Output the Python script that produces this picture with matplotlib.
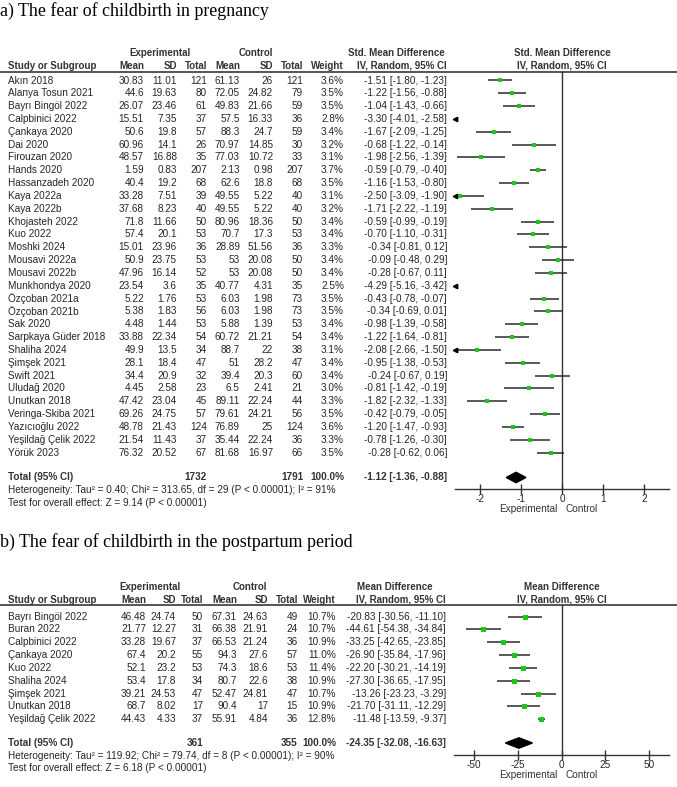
import matplotlib
matplotlib.use("Agg")
import matplotlib.pyplot as plt
from matplotlib.patches import Polygon

# ---------------- data: panel a ----------------
studies_a = ["Akın 2018", "Alanya Tosun 2021", "Bayrı Bingöl 2022", "Calpbinici 2022", "Çankaya 2020",
             "Dai 2020", "Firouzan 2020", "Hands 2020", "Hassanzadeh 2020", "Kaya 2022a", "Kaya 2022b",
             "Khojasteh 2022", "Kuo 2022", "Moshki 2024", "Mousavi 2022a", "Mousavi 2022b",
             "Munkhondya 2020", "Özçoban 2021a", "Özçoban 2021b", "Sak 2020", "Sarpkaya Güder 2018",
             "Shaliha 2024", "Şimşek 2021", "Swift 2021", "Uludağ 2020", "Unutkan 2018",
             "Veringa-Skiba 2021", "Yazıcıoğlu 2022", "Yeşildağ Çelik 2022", "Yörük 2023"]
exp_mean_a = [30.83, 44.6, 26.07, 15.51, 50.6, 60.96, 48.57, 1.59, 40.4, 33.28, 37.68, 71.8, 57.4, 15.01,
              50.9, 47.96, 23.54, 5.22, 5.38, 4.48, 33.88, 49.9, 28.1, 34.4, 4.45, 47.42, 69.26, 48.78,
              21.54, 76.32]
exp_sd_a = [11.01, 19.63, 23.46, 7.35, 19.8, 14.1, 16.88, 0.83, 19.2, 7.51, 8.23, 11.66, 20.1, 23.96,
            23.75, 16.14, 3.6, 1.76, 1.83, 1.44, 22.34, 13.5, 18.4, 20.9, 2.58, 23.04, 24.75, 21.43,
            11.43, 20.52]
exp_n_a = [121, 80, 61, 37, 57, 26, 35, 207, 68, 39, 40, 50, 53, 36, 53, 52, 35, 53, 56, 53, 54, 34, 47,
           32, 23, 45, 57, 124, 37, 67]
ctl_mean_a = [61.13, 72.05, 49.83, 57.5, 88.3, 70.97, 77.03, 2.13, 62.6, 49.55, 49.55, 80.96, 70.7, 28.89,
              53, 53, 40.77, 6.03, 6.03, 5.88, 60.72, 88.7, 51, 39.4, 6.5, 89.11, 79.61, 76.89, 35.44,
              81.68]
ctl_sd_a = [26, 24.82, 21.66, 16.33, 24.7, 14.85, 10.72, 0.98, 18.8, 5.22, 5.22, 18.36, 17.3, 51.56,
            20.08, 20.08, 4.31, 1.98, 1.98, 1.39, 21.21, 22, 28.2, 20.3, 2.41, 22.24, 24.21, 25, 22.24,
            16.97]
ctl_n_a = [121, 79, 59, 36, 59, 30, 33, 207, 68, 40, 40, 50, 53, 36, 50, 50, 35, 73, 73, 53, 54, 38, 47,
           60, 21, 44, 56, 124, 36, 66]
weight_a = [3.6, 3.5, 3.5, 2.8, 3.4, 3.2, 3.1, 3.7, 3.5, 3.1, 3.2, 3.4, 3.4, 3.3, 3.4, 3.4, 2.5, 3.5, 3.5,
            3.4, 3.4, 3.1, 3.4, 3.4, 3.0, 3.3, 3.5, 3.6, 3.3, 3.5]
est_a = [-1.51, -1.22, -1.04, -3.30, -1.67, -0.68, -1.98, -0.59, -1.16, -2.50, -1.71, -0.59, -0.70, -0.34,
         -0.09, -0.28, -4.29, -0.43, -0.34, -0.98, -1.22, -2.08, -0.95, -0.24, -0.81, -1.82, -0.42, -1.20,
         -0.78, -0.28]
lo_a = [-1.80, -1.56, -1.43, -4.01, -2.09, -1.22, -2.56, -0.79, -1.53, -3.09, -2.22, -0.99, -1.10, -0.81,
        -0.48, -0.67, -5.16, -0.78, -0.69, -1.39, -1.64, -2.66, -1.38, -0.67, -1.42, -2.32, -0.79, -1.47,
        -1.26, -0.62]
hi_a = [-1.23, -0.88, -0.66, -2.58, -1.25, -0.14, -1.39, -0.40, -0.80, -1.90, -1.19, -0.19, -0.31, 0.12,
        0.29, 0.11, -3.42, -0.07, 0.01, -0.58, -0.81, -1.50, -0.53, 0.19, -0.19, -1.33, -0.05, -0.93,
        -0.30, 0.06]
total_a = {"exp_n": 1732, "ctl_n": 1791, "weight": 100.0, "est": -1.12, "lo": -1.36, "hi": -0.88}
het_a = "Heterogeneity: Tau² = 0.40; Chi² = 313.65, df = 29 (P < 0.00001); I² = 91%"
test_a = "Test for overall effect: Z = 9.14 (P < 0.00001)"
ticks_a = [-2, -1, 0, 1, 2]

# ---------------- data: panel b ----------------
studies_b = ["Bayrı Bingöl 2022", "Buran 2022", "Calpbinici 2022", "Çankaya 2020", "Kuo 2022",
             "Shaliha 2024", "Şimşek 2021", "Unutkan 2018", "Yeşildağ Çelik 2022"]
exp_mean_b = [46.48, 21.77, 33.28, 67.4, 52.1, 53.4, 39.21, 68.7, 44.43]
exp_sd_b = [24.74, 12.27, 19.67, 20.2, 23.2, 17.8, 24.53, 8.02, 4.33]
exp_n_b = [50, 31, 37, 55, 53, 34, 47, 17, 37]
ctl_mean_b = [67.31, 66.38, 66.53, 94.3, 74.3, 80.7, 52.47, 90.4, 55.91]
ctl_sd_b = [24.63, 21.91, 21.24, 27.6, 18.6, 22.6, 24.81, 17, 4.84]
ctl_n_b = [49, 24, 36, 57, 53, 38, 47, 15, 36]
weight_b = [10.7, 10.7, 10.9, 11.0, 11.4, 10.9, 10.7, 10.9, 12.8]
est_b = [-20.83, -44.61, -33.25, -26.90, -22.20, -27.30, -13.26, -21.70, -11.48]
lo_b = [-30.56, -54.38, -42.65, -35.84, -30.21, -36.65, -23.23, -31.11, -13.59]
hi_b = [-11.10, -34.84, -23.85, -17.96, -14.19, -17.95, -3.29, -12.29, -9.37]
total_b = {"exp_n": 361, "ctl_n": 355, "weight": 100.0, "est": -24.35, "lo": -32.08, "hi": -16.63}
het_b = "Heterogeneity: Tau² = 119.92; Chi² = 79.74, df = 8 (P < 0.00001); I² = 90%"
test_b = "Test for overall effect: Z = 6.18 (P < 0.00001)"
ticks_b = [-50, -25, 0, 25, 50]

# ---------------- figure ----------------
W, H = 677, 787
fig = plt.figure(figsize=(W / 100, H / 100), dpi=100)
bg = fig.add_axes([0, 0, 1, 1])
bg.set_xlim(0, W)
bg.set_ylim(H, 0)
bg.axis("off")

SANS = ["Liberation Sans", "DejaVu Sans"]
SERIF = ["Liberation Serif", "DejaVu Serif"]
FS = 7.2
HFS = 7.0
TXT = "#262626"
HDR = "#333333"
GREEN = "#19c819"
LINE = "#2b2b2b"


def fmt(v):
    return f"{v:g}"


def txt(x, y, s, ha="left", bold=False, size=FS, color=TXT):
    bg.text(x, y, s, ha=ha, va="center", fontsize=size, family=SANS,
            fontweight="bold" if bold else "normal", color=color)


def panel(title, title_y, hdr_y1, hdr_y2, line_y, row0, pitch, total_y, het_y, test_y,
          axis_y, ax_left, ax_right, xlim, ticks, cols, grp_x, ci_right, col_title,
          studies, em, es, en, cm, cs, cn, wt, est, lo, hi, total, het, test, msz):
    bg.text(0, title_y, title, ha="left", va="center", fontsize=12.9, family=SERIF, color="black")
    # headers
    txt(grp_x[0], hdr_y1, "Experimental", ha="center", bold=True, size=HFS, color=HDR)
    txt(grp_x[1], hdr_y1, "Control", ha="center", bold=True, size=HFS, color=HDR)
    txt(ci_right - 51, hdr_y1, col_title, ha="center", bold=True, size=HFS, color=HDR)
    txt(8, hdr_y2, "Study or Subgroup", bold=True, size=HFS, color=HDR)
    for x, lab in zip(cols, ["Mean", "SD", "Total", "Mean", "SD", "Total", "Weight"]):
        txt(x, hdr_y2, lab, ha="right", bold=True, size=HFS, color=HDR)
    txt(ci_right, hdr_y2, "IV, Random, 95% CI", ha="right", bold=True, size=HFS, color=HDR)
    zero_x = ax_left + (0 - xlim[0]) / (xlim[1] - xlim[0]) * (ax_right - ax_left)
    txt(zero_x, hdr_y1, col_title, ha="center", bold=True, size=HFS, color=HDR)
    txt(zero_x, hdr_y2, "IV, Random, 95% CI", ha="center", bold=True, size=HFS, color=HDR)
    bg.plot([0, W], [line_y, line_y], color="#555555", lw=1.4, solid_capstyle="butt")

    # rows
    ys = [row0 + i * pitch for i in range(len(studies))]
    for i, y in enumerate(ys):
        txt(8, y, studies[i])
        vals = [fmt(em[i]), fmt(es[i]), str(en[i]), fmt(cm[i]), fmt(cs[i]), str(cn[i]),
                f"{wt[i]:.1f}%"]
        for x, v in zip(cols, vals):
            txt(x, y, v, ha="right")
        txt(ci_right, y, f"{est[i]:.2f} [{lo[i]:.2f}, {hi[i]:.2f}]", ha="right")
    # total
    txt(8, total_y, "Total (95% CI)", bold=True, color=HDR)
    txt(cols[2], total_y, str(total["exp_n"]), ha="right", bold=True, color=HDR)
    txt(cols[5], total_y, str(total["ctl_n"]), ha="right", bold=True, color=HDR)
    txt(cols[6], total_y, f"{total['weight']:.1f}%", ha="right", bold=True, color=HDR)
    txt(ci_right, total_y, f"{total['est']:.2f} [{total['lo']:.2f}, {total['hi']:.2f}]",
        ha="right", bold=True, color=HDR)
    txt(8, het_y, het)
    txt(8, test_y, test)

    # forest axes
    ax = fig.add_axes([ax_left / W, 1 - axis_y / H, (ax_right - ax_left) / W, (axis_y - line_y) / H])
    ax.set_xlim(*xlim)
    ax.set_ylim(axis_y, line_y)
    ax.patch.set_alpha(0)
    for s in ["top", "right", "left"]:
        ax.spines[s].set_visible(False)
    ax.spines["bottom"].set_color("#333333")
    ax.spines["bottom"].set_linewidth(1.0)
    ax.set_yticks([])
    ax.set_xticks(ticks)
    ax.set_xticklabels([str(t) for t in ticks], fontsize=FS, family=SANS, color=TXT)
    ax.tick_params(axis="x", direction="inout", length=7, width=1, color="#333333", pad=0)
    ax.axvline(0, color="#333333", lw=1.0)
    xmin, xmax = xlim
    for i, y in enumerate(ys):
        if hi[i] > xmin:
            ax.plot([max(lo[i], xmin), min(hi[i], xmax)], [y, y], color=LINE, lw=1.1,
                    solid_capstyle="butt")
        if lo[i] < xmin:
            ax.plot([xmin], [y], marker="<", ms=3.2, color="black", clip_on=False)
        if xmin < est[i] < xmax:
            ax.plot([est[i]], [y], marker="s", ms=msz(wt[i]), color=GREEN, mec=GREEN, mew=0)
    h = 5.2
    ax.add_patch(Polygon([(total["lo"], total_y), (total["est"], total_y - h),
                          (total["hi"], total_y), (total["est"], total_y + h)],
                         closed=True, color="black"))
    # favours labels
    txt(zero_x - 4, axis_y + 20, "Experimental", ha="right", color="#333333")
    txt(zero_x + 4, axis_y + 20, "Control", ha="left", color="#333333")


panel("a) The fear of childbirth in pregnancy", 11, 53, 66, 72, 80.5, 12.83, 477.5, 490, 503,
      489, 455, 669, (-2.61, 2.61), ticks_a,
      [144, 177, 207, 240, 273, 303, 344], (160, 256), 447, "Std. Mean Difference",
      studies_a, exp_mean_a, exp_sd_a, exp_n_a, ctl_mean_a, ctl_sd_a, ctl_n_a, weight_a,
      est_a, lo_a, hi_a, total_a, het_a, test_a, lambda w: 2.4)

panel("b) The fear of childbirth in the postpartum period", 542, 587, 600, 605, 616.5, 12.85, 743,
      756, 768, 755, 454, 669, (-61.4, 61.4), ticks_b,
      [146, 176, 203, 237, 268, 298, 336], (150, 250), 446, "Mean Difference",
      studies_b, exp_mean_b, exp_sd_b, exp_n_b, ctl_mean_b, ctl_sd_b, ctl_n_b, weight_b,
      est_b, lo_b, hi_b, total_b, het_b, test_b, lambda w: 3.6)

fig.savefig("out.png", dpi=100)
